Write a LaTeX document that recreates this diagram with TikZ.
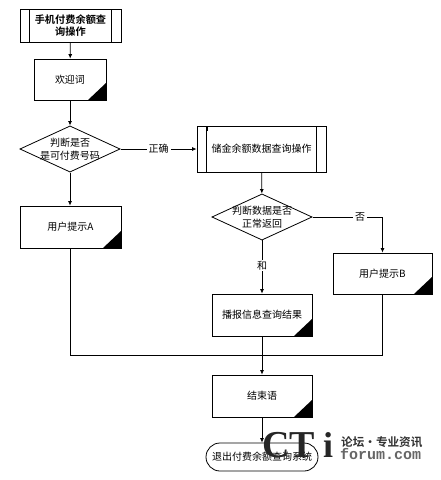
\documentclass[tikz,border=0pt]{standalone}
\usepackage{fontspec}
\setmainfont{Liberation Sans}
\newfontfamily\cjk{Noto Sans CJK SC}
\newfontfamily\cjkb{Noto Sans CJK SC Bold}
\newfontfamily\wmserif{Liberation Serif}
\newfontfamily\wmmono{Liberation Mono}
\usetikzlibrary{shapes.geometric,arrows.meta}
\tikzset{
  x=1pt,y=-1pt,
  every node/.style={font=\cjk\fontsize{10}{13}\selectfont,align=center,inner sep=0pt},
  decision/.style={draw,line width=0.8pt,diamond,aspect=2.17,minimum width=100pt,minimum height=46pt,inner xsep=-4pt,inner ysep=0pt},
  conn/.style={line width=0.8pt,-{Latex[length=4.5pt,width=4pt]}},
  plain/.style={line width=0.8pt},
  lbl/.style={fill=white,inner xsep=2pt,inner ysep=1pt},
  wmark/.style={anchor=base west,font=\wmserif\bfseries\fontsize{38}{38}\selectfont,text=black!85}
}
\newcommand{\notebox}[6]{% name, x0, y0, x1, y1, text
  \node[draw,line width=0.8pt,rectangle,minimum width=#4pt-#2pt,minimum height=#5pt-#3pt] (#1) at ({(#2+#4)/2},{(#3+#5)/2}) {#6};
  \fill (#4,#5) -- (#4-18,#5) -- (#4,#5-17) -- cycle;
}
\begin{document}
\begin{tikzpicture}
\useasboundingbox (0,0) rectangle (440,480);
\fill[white] (0,0) rectangle (440,480);

% start
\node[draw,line width=0.8pt,minimum width=101pt,minimum height=33pt,font=\cjkb\fontsize{10.2}{12.5}\selectfont] (start) at (70.5,25.5) {手机付费余额查\\询操作};
\draw[plain] (29.5,9) -- (29.5,42) (111.5,9) -- (111.5,42);

\notebox{welcome}{34}{59}{106}{100}{欢迎词}
\node[decision] (d1) at (70,149) {判断是否\\是可付费号码};
\notebox{a}{20}{206}{121}{248}{用户提示A}

% query
\node[draw,line width=0.8pt,minimum width=129pt,minimum height=46pt] (query) at (261.5,149) {储金余额数据查询操作};
\draw[plain] (206.5,126) -- (206.5,172) (316,126) -- (316,172);
\draw[line width=1pt] (207,127) -- (207,131) (316,127) -- (316,131);

\node[decision] (d2) at (262,217) {判断数据是否\\正常返回};
\notebox{b}{333}{253}{432}{294}{用户提示B}
\notebox{play}{212}{294}{312}{336}{播报信息查询结果}
\notebox{end}{212}{375}{312}{417}{结束语}
\node[draw,line width=0.8pt,rounded corners=14pt,minimum width=112pt,minimum height=28pt] (exit) at (262,457) {退出付费余额查询系统};

% connectors
\coordinate (ja) at (a.south |- 0,355);
\coordinate (jb) at (b.south |- 0,355);
\draw[conn] (start) -- (welcome);
\draw[conn] (welcome) -- (d1);
\draw[conn] (d1) -- (a.north -| d1);
\draw[conn] (d1) -- node[lbl]{正确} (query);
\draw[conn] (query) -- (d2);
\draw[conn] (d2) -- node[lbl,pos=0.47]{和} (play);
\draw[conn] (d2.east) -| node[lbl,pos=0.34]{否} (b.north);
\draw[plain] (a.south) -- (ja) -- (jb) -- (b.south);
\draw[conn] (play.south) -- (end.north);
\draw[conn] (end.south) -- (exit.north);

% watermark
\node[wmark] (wmct) at (262,457) {CT};
\node[wmark,font=\wmserif\bfseries\fontsize{36}{36}\selectfont] (wmi) at (323,457) {i};
\node[anchor=base west,font=\cjkb\fontsize{11.6}{12}\selectfont,text=black!80] (wm1) at (341,446) {论坛·专业资讯};
\node[anchor=base west,font=\wmmono\bfseries\fontsize{15}{15}\selectfont,text=black!60] (wm2) at (340,459) {forum.com};
\end{tikzpicture}
\end{document}
